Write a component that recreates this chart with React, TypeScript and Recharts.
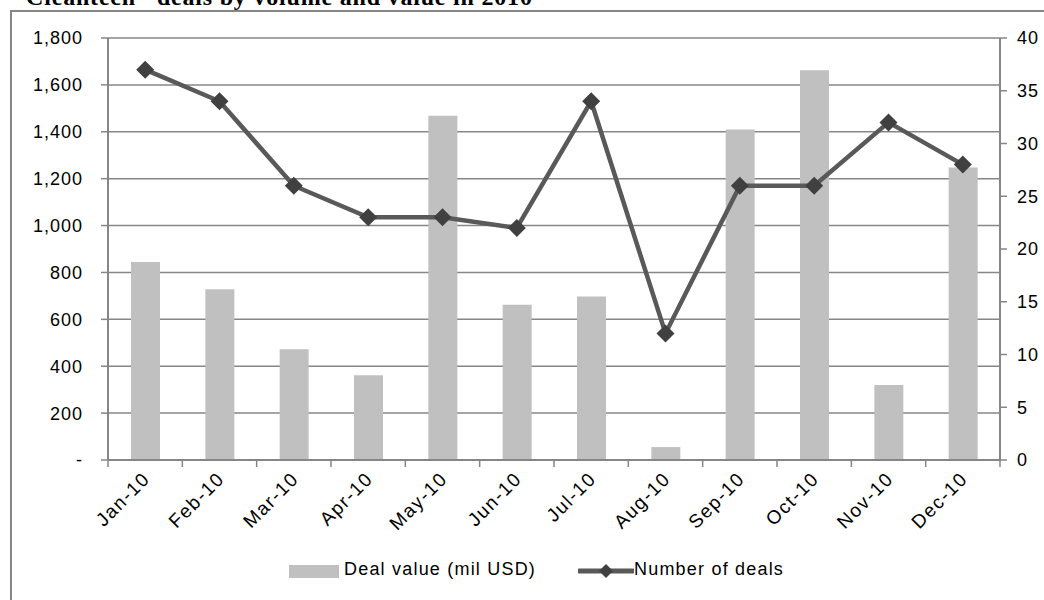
import { ComposedChart, Bar, Line, XAxis, YAxis, CartesianGrid, Legend } from "recharts";

const months = ["Jan-10", "Feb-10", "Mar-10", "Apr-10", "May-10", "Jun-10", "Jul-10", "Aug-10", "Sep-10", "Oct-10", "Nov-10", "Dec-10"];
const dealValue = [845, 728, 472, 362, 1468, 662, 697, 55, 1410, 1662, 320, 1248];
const dealCount = [37, 34, 26, 23, 23, 22, 34, 12, 26, 26, 32, 28];
const leftTicks = [0, 200, 400, 600, 800, 1000, 1200, 1400, 1600, 1800];
const rightTicks = [0, 5, 10, 15, 20, 25, 30, 35, 40];

const data = months.map((m, i) => ({ month: m, value: dealValue[i], deals: dealCount[i] }));

const W = 1044;
const H = 600;
const LEFT_W = 108;
const RIGHT_W = 44;
const TOP = 38;
const XAXIS_H = 140;
const FONT = "'Liberation Sans', Arial, sans-serif";
const AXIS = "#868686";
const half = (W - LEFT_W - RIGHT_W) / months.length / 2;

const fmtLeft = (v: number) => (v === 0 ? "-" : v.toLocaleString("en-US"));

function MonthTick(props: any) {
  const { x, y, payload, index } = props;
  const tx = x + 6;
  const ty = y + 20;
  return (
    <g>
      <line x1={x - half} x2={x - half} y1={y} y2={y + 7} stroke={AXIS} strokeWidth={1.5} />
      {index === months.length - 1 && (
        <line x1={x + half} x2={x + half} y1={y} y2={y + 7} stroke={AXIS} strokeWidth={1.5} />
      )}
      <text
        x={tx}
        y={ty}
        textAnchor="end"
        transform={`rotate(-45, ${tx}, ${ty})`}
        fontFamily={FONT}
        fontSize={19}
        letterSpacing={1.5}
        fill="#000"
      >
        {payload.value}
      </text>
    </g>
  );
}

function Diamond(props: any) {
  const { cx, cy } = props;
  if (cx == null || cy == null) return null;
  const r = 9;
  return <path d={`M${cx},${cy - r}L${cx + r},${cy}L${cx},${cy + r}L${cx - r},${cy}Z`} fill="#404040" />;
}

function LegendContent() {
  return (
    <div style={{ position: "relative", height: 30, fontFamily: FONT, fontSize: 18, letterSpacing: 1.2, color: "#000" }}>
      <div style={{ position: "absolute", left: 289, top: 9, width: 50, height: 13, background: "#C0C0C0" }} />
      <div style={{ position: "absolute", left: 344, top: 3, whiteSpace: "nowrap" }}>Deal value (mil USD)</div>
      <svg style={{ position: "absolute", left: 578, top: 4 }} width={56} height={22}>
        <line x1={1} x2={55} y1={11} y2={11} stroke="#595959" strokeWidth={5} strokeLinecap="round" />
        <path d="M28,4L35,11L28,18L21,11Z" fill="#404040" />
      </svg>
      <div style={{ position: "absolute", left: 634, top: 3, whiteSpace: "nowrap" }}>Number of deals</div>
    </div>
  );
}

export default function App() {
  return (
    <div style={{ position: "absolute", left: 0, top: 0, width: W, height: H, overflow: "hidden", background: "#fff" }}>
      <div
        style={{
          position: "absolute",
          left: 12,
          top: -15,
          fontFamily: "'Liberation Serif', 'Times New Roman', serif",
          fontWeight: "bold",
          fontSize: 24,
          letterSpacing: 0.8,
          lineHeight: "24px",
          whiteSpace: "nowrap",
        }}
      >
        "Cleantech" deals by volume and value in 2010
      </div>
      <div
        style={{
          position: "absolute",
          left: 10,
          top: 10,
          width: W,
          height: H,
          border: `2px solid ${AXIS}`,
          boxSizing: "border-box",
        }}
      />
      <div style={{ position: "absolute", left: 0, top: 0 }}>
        <ComposedChart width={W} height={H} data={data} margin={{ top: TOP, right: 0, bottom: 0, left: 0 }}>
          <CartesianGrid yAxisId="left" vertical={false} stroke={AXIS} strokeWidth={1.5} />
          <XAxis
            dataKey="month"
            height={XAXIS_H}
            interval={0}
            tickLine={false}
            tickSize={0}
            tickMargin={0}
            axisLine={{ stroke: AXIS, strokeWidth: 2 }}
            tick={<MonthTick />}
          />
          <YAxis
            yAxisId="left"
            width={LEFT_W}
            domain={[0, 1800]}
            ticks={leftTicks}
            tickFormatter={fmtLeft}
            tickSize={7}
            tickMargin={18}
            axisLine={{ stroke: AXIS, strokeWidth: 2 }}
            tickLine={{ stroke: AXIS, strokeWidth: 1.5 }}
            tick={{ fill: "#000", fontFamily: FONT, fontSize: 18, letterSpacing: 1 }}
          />
          <YAxis
            yAxisId="right"
            orientation="right"
            width={RIGHT_W}
            domain={[0, 40]}
            ticks={rightTicks}
            tickSize={7}
            tickMargin={10}
            axisLine={{ stroke: AXIS, strokeWidth: 2 }}
            tickLine={{ stroke: AXIS, strokeWidth: 1.5 }}
            tick={{ fill: "#000", fontFamily: FONT, fontSize: 18, letterSpacing: 1, textAnchor: "start" }}
          />
          <Bar yAxisId="left" dataKey="value" name="Deal value (mil USD)" fill="#C0C0C0" barSize={29} isAnimationActive={false} />
          <Line
            yAxisId="right"
            dataKey="deals"
            name="Number of deals"
            stroke="#595959"
            strokeWidth={4.5}
            dot={<Diamond />}
            activeDot={false}
            isAnimationActive={false}
          />
          <Legend
            layout="horizontal"
            verticalAlign="middle"
            align="center"
            wrapperStyle={{ top: 556, left: 0, width: W }}
            content={<LegendContent />}
          />
        </ComposedChart>
      </div>
    </div>
  );
}
